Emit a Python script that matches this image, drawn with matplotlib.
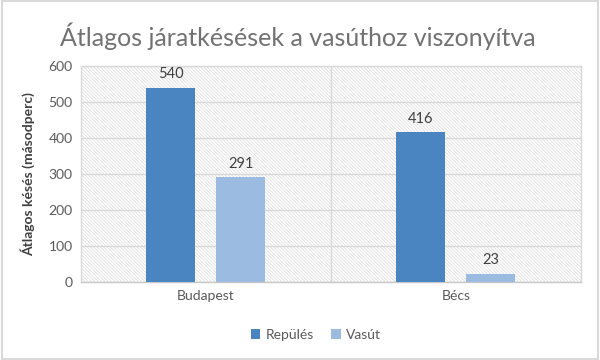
import numpy as np
import matplotlib
matplotlib.use("Agg")
import matplotlib.pyplot as plt
from matplotlib.patches import Rectangle

categories = ["Budapest", "Bécs"]
series_names = ["Repülés", "Vasút"]
repules = [540, 416]
vasut = [291, 23]
yticks = [0, 100, 200, 300, 400, 500, 600]

plt.rcParams['font.family'] = ['Lato', 'DejaVu Sans']
plt.rcParams['hatch.color'] = '#e0e0e0'
plt.rcParams['hatch.linewidth'] = 0.6

fig = plt.figure(figsize=(6, 3.6), dpi=100)
ax = fig.add_axes([0.135, 0.2167, 0.833, 0.6])

x = np.arange(len(categories))
w = 0.196
off = 0.14
b1 = ax.bar(x - off, repules, w, color='#4a85c1', label=series_names[0], zorder=3)
b2 = ax.bar(x + off, vasut, w, color='#9bbbe0', label=series_names[1], zorder=3)

for bars in (b1, b2):
    for r in bars:
        ax.text(r.get_x() + r.get_width() / 2, r.get_height() + 18, f"{int(r.get_height())}",
                ha='center', va='bottom', fontsize=10.5, color='#404040', zorder=4)

ax.set_xlim(-0.5, 1.5)
ax.set_ylim(0, 600)
ax.set_yticks(yticks)
ax.set_xticks(x)
ax.set_xticklabels(categories)
ax.tick_params(axis='both', length=0, labelsize=10, colors='#595959', pad=6)
ax.yaxis.grid(True, color='#d9d9d9', linewidth=1, zorder=1)
ax.axvline(0.5, color='#d9d9d9', linewidth=1, zorder=1)
ax.set_axisbelow(True)

ax.patch.set_facecolor('white')
ax.patch.set_hatch('\\' * 10)
ax.patch.set_edgecolor('#e0e0e0')
for s in ax.spines.values():
    s.set_color('#d9d9d9')
    s.set_linewidth(1)
ax.spines['bottom'].set_color('#c8c8c8')

ax.set_ylabel("Átlagos késés (másodperc)", fontsize=10, fontweight='bold', color='#404040', labelpad=10)

fig.text(0.497, 0.9, "Átlagos járatkésések a vasúthoz viszonyítva", ha='center', va='center',
         fontsize=18, color='#727272')

ax.legend(loc='center', bbox_to_anchor=(0.47, -0.245), ncol=2, frameon=False, fontsize=10,
          handlelength=0.7, handleheight=0.7, handletextpad=0.4, columnspacing=1.2,
          labelcolor='#595959')

fig.patches.append(Rectangle((0.003, 0.004), 0.993, 0.992, transform=fig.transFigure,
                             fill=False, edgecolor='#d9d9d9', linewidth=1.5))

fig.savefig("out.png", dpi=100)
